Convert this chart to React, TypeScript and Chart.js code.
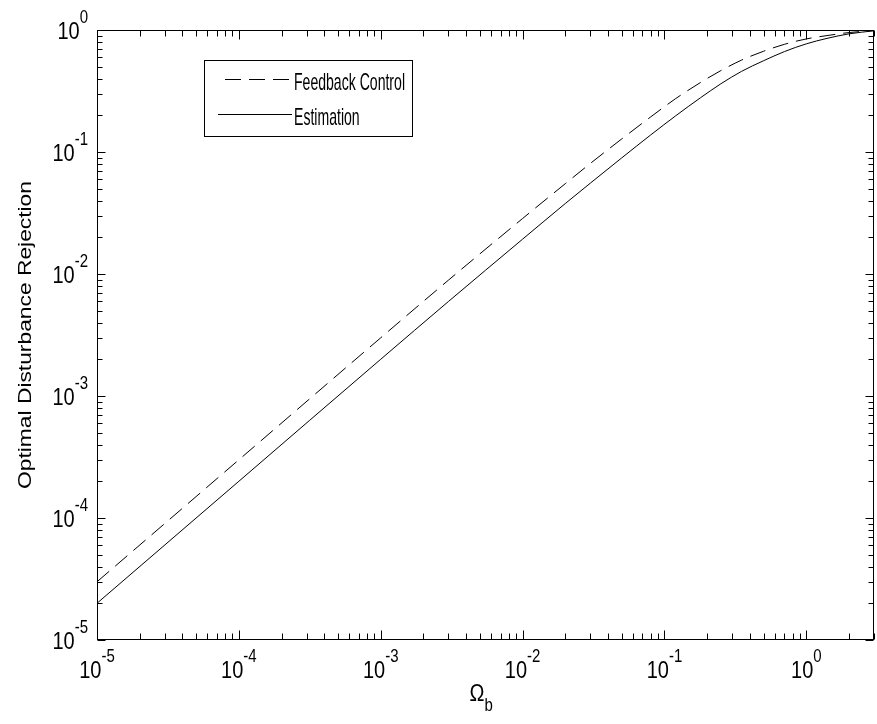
import React, { useEffect, useRef } from "react";
import { Chart, registerables } from "chart.js";

Chart.register(...registerables);

// ---- data ----
const omegaB = [1e-5, 1e-4, 1e-3, 3e-3, 1e-2, 0.02, 0.03, 0.05, 0.08, 0.12, 0.18, 0.25, 0.35, 0.5, 0.7, 1.0, 1.4, 2.0, 3.0];
const feedbackControl = [3e-5, 3e-4, 3e-3, 8.9e-3, 0.0285, 0.055, 0.0805, 0.128, 0.194, 0.274, 0.372, 0.465, 0.567, 0.67, 0.763, 0.845, 0.9, 0.953, 0.99];
const estimation = [2e-5, 2e-4, 2e-3, 5.95e-3, 0.0193, 0.0378, 0.0555, 0.0895, 0.138, 0.198, 0.279, 0.3625, 0.4585, 0.56, 0.665, 0.77, 0.854, 0.93, 0.985];

const seriesLabels = ["Feedback Control", "Estimation"];
const xTickExponents = [-5, -4, -3, -2, -1, 0];
const yTickExponents = [-5, -4, -3, -2, -1, 0];
const xMin = 1e-5;
const xMax = 3;
const yMin = 1e-5;
const yMax = 1;
const xTitle = "Ω";
const xTitleSub = "b";
const yTitle = "Optimal Disturbance Rejection";

const W = 877;
const H = 724;
const FONT = "'Liberation Sans', Arial, sans-serif";
const SY = 1.2; // vertical stretch of the reference text

function drawText(ctx: CanvasRenderingContext2D, text: string, x: number, y: number, size: number, align: CanvasTextAlign, sx = 1, sy = SY) {
  ctx.save();
  ctx.font = `${size}px ${FONT}`;
  ctx.textAlign = align;
  ctx.textBaseline = "alphabetic";
  ctx.translate(x, y);
  ctx.scale(sx, sy);
  ctx.fillText(text, 0, 0);
  ctx.restore();
}

function measure(ctx: CanvasRenderingContext2D, text: string, size: number) {
  ctx.save();
  ctx.font = `${size}px ${FONT}`;
  const w = ctx.measureText(text).width;
  ctx.restore();
  return w;
}

const framePlugin = {
  id: "matlabFrame",
  afterDraw(chart: any) {
    const ctx: CanvasRenderingContext2D = chart.ctx;
    const { left, right, top, bottom } = chart.chartArea;
    const xs = chart.scales.x;
    const ys = chart.scales.y;
    ctx.save();
    ctx.strokeStyle = "#000";
    ctx.fillStyle = "#000";
    ctx.lineWidth = 1;
    const L = Math.round(left) + 0.5;
    const R = Math.round(right) - 0.5;
    const T = Math.round(top) + 0.5;
    const B = Math.round(bottom) - 0.5;
    ctx.strokeRect(L, T, R - L, B - T);

    ctx.beginPath();
    xTickExponents.forEach((e) => {
      for (let m = 1; m <= 9; m++) {
        const v = m * Math.pow(10, e);
        if (v < xMin || v > xMax) continue;
        const px = Math.round(xs.getPixelForValue(v)) + 0.5;
        const len = m === 1 ? 9 : 6;
        ctx.moveTo(px, B);
        ctx.lineTo(px, B - len);
        ctx.moveTo(px, T);
        ctx.lineTo(px, T + len);
      }
    });
    yTickExponents.forEach((e) => {
      for (let m = 1; m <= 9; m++) {
        const v = m * Math.pow(10, e);
        if (v < yMin || v > yMax) continue;
        const py = Math.round(ys.getPixelForValue(v)) + 0.5;
        const len = m === 1 ? 8 : 5;
        ctx.moveTo(L, py);
        ctx.lineTo(L + len, py);
        ctx.moveTo(R, py);
        ctx.lineTo(R - len, py);
      }
    });
    ctx.stroke();

    // tick labels
    const baseSize = 20;
    const expSize = 15;
    const wb = measure(ctx, "10", baseSize);
    xTickExponents.forEach((e) => {
      const px = xs.getPixelForValue(Math.pow(10, e));
      const es = String(e);
      const we = measure(ctx, es, expSize);
      const start = px - (wb + we) / 2;
      drawText(ctx, "10", start, bottom + 38, baseSize, "left");
      drawText(ctx, es, start + wb, bottom + 22, expSize, "left");
    });
    yTickExponents.forEach((e) => {
      const py = ys.getPixelForValue(Math.pow(10, e));
      const es = String(e);
      const we = measure(ctx, es, expSize);
      const rx = left - 9;
      drawText(ctx, es, rx, py - 7, expSize, "right");
      drawText(ctx, "10", rx - we, py + 9, baseSize, "right");
    });

    // axis titles
    const cx = (left + right) / 2;
    const wO = measure(ctx, xTitle, 20);
    drawText(ctx, xTitle, cx - 16, 701, 20, "left");
    drawText(ctx, xTitleSub, cx - 16 + wO, 711, 15, "left");

    ctx.save();
    ctx.font = `19px ${FONT}`;
    ctx.textAlign = "center";
    ctx.textBaseline = "alphabetic";
    ctx.translate(31, 335);
    ctx.rotate(-Math.PI / 2);
    ctx.scale(SY, 1);
    ctx.fillText(yTitle, 0, 0);
    ctx.restore();

    // legend
    const lgSize = 20;
    const rawW = measure(ctx, seriesLabels[0], lgSize);
    const lgSX = 111 / rawW;
    const tw = Math.max(...seriesLabels.map((s) => measure(ctx, s, lgSize) * lgSX));
    const boxL = 204.5;
    const boxT = 60.5;
    const textX = 294;
    const boxR = Math.round(textX + tw + 7) + 0.5;
    const boxB = 136.5;
    ctx.fillStyle = "#fff";
    ctx.fillRect(boxL, boxT, boxR - boxL, boxB - boxT);
    ctx.strokeStyle = "#000";
    ctx.strokeRect(boxL, boxT, boxR - boxL, boxB - boxT);
    const rows = [79.5, 114.5];
    chart.data.datasets.forEach((ds: any, i: number) => {
      ctx.save();
      ctx.strokeStyle = ds.borderColor;
      ctx.lineWidth = 1;
      ctx.setLineDash(ds.borderDash || []);
      ctx.beginPath();
      const x0 = i === 0 ? 225 : 218;
      ctx.moveTo(x0, rows[i]);
      ctx.lineTo(292, rows[i]);
      ctx.stroke();
      ctx.restore();
      ctx.fillStyle = "#000";
      drawText(ctx, seriesLabels[i], textX, rows[i] + 10.5, lgSize, "left", lgSX, SY);
    });
    ctx.restore();
  },
};

export default function App() {
  const ref = useRef<HTMLCanvasElement | null>(null);
  useEffect(() => {
    if (!ref.current) return;
    const chart = new Chart(ref.current, {
      type: "line",
      data: {
        datasets: [
          {
            label: seriesLabels[0],
            data: omegaB.map((x, i) => ({ x, y: feedbackControl[i] })),
            borderColor: "#000",
            borderWidth: 1,
            borderDash: [16, 8],
            pointRadius: 0,
            fill: false,
            cubicInterpolationMode: "monotone",
          },
          {
            label: seriesLabels[1],
            data: omegaB.map((x, i) => ({ x, y: estimation[i] })),
            borderColor: "#000",
            borderWidth: 1,
            pointRadius: 0,
            fill: false,
            cubicInterpolationMode: "monotone",
          },
        ],
      },
      options: {
        responsive: false,
        animation: false,
        events: [],
        layout: { padding: { left: 97, top: 30, right: 3, bottom: 84 } },
        scales: {
          x: { type: "logarithmic", min: xMin, max: xMax, display: false },
          y: { type: "logarithmic", min: yMin, max: yMax, display: false },
        },
        plugins: { legend: { display: false }, tooltip: { enabled: false } },
      },
      plugins: [framePlugin],
    } as any);
    return () => chart.destroy();
  }, []);
  return (
    <canvas
      ref={ref}
      width={W}
      height={H}
      style={{ position: "absolute", left: 0, top: 0, width: W, height: H, background: "#fff" }}
    />
  );
}
